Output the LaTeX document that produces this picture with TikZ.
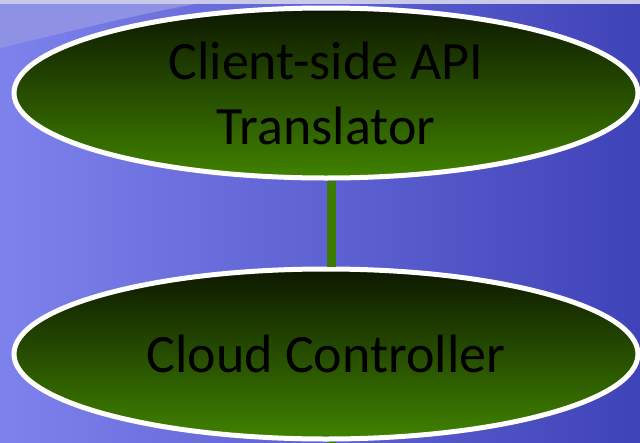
\documentclass[tikz,border=0pt]{standalone}
\usepackage{fontspec}
\setmainfont{Carlito}
\usepackage{tikz}
\usetikzlibrary{shapes.geometric, positioning, backgrounds}
\definecolor{BG_L}  {HTML}{7E82EC}
\definecolor{BG_R}  {HTML}{3F43B8}
\definecolor{BG_SW} {HTML}{8E91E4}
\definecolor{BG_TOP}{HTML}{C9CAEA}
\definecolor{EL_TOP}{HTML}{0D1800}
\definecolor{EL_BOT}{HTML}{408200}
\definecolor{LINK}  {HTML}{3D7B00}
\tikzset{
  %% -- green ellipse with white rim --
  stack/unit/.style={
    ellipse, draw=white, line width=5pt,
    top color=EL_TOP, bottom color=EL_BOT,
    minimum width=624pt, minimum height=170pt, inner sep=0pt,
    align=center, font=\fontsize{54}{65}\selectfont, text=black
  },
  %% -- vertical connector --
  stack/link/.style={draw=LINK, line width=9pt},
}
\begin{document}
\begin{tikzpicture}[x=1pt, y=-1pt]
\useasboundingbox (0,0) rectangle (640,442);
%% Background
\shade[left color=BG_L, right color=BG_R] (0,0) rectangle (640,442);
\fill[BG_SW] (0,4) -- (195,4) .. controls (120,18) and (60,34) .. (0,48) -- cycle;
\fill[BG_TOP] (0,0) rectangle (640,4);

%% Nodes
\node[stack/unit] (api)   at (326,93)  {Client-side API\\Translator};
\node[stack/unit] (cloud) at (326,354) {Cloud Controller};
\coordinate (below) at (331,470);

%% Links
\draw[stack/link] ([xshift=5pt]api.south) -- ([xshift=5pt]cloud.north);
\draw[stack/link] ([xshift=5pt]cloud.south) -- (below);
\end{tikzpicture}
\end{document}
